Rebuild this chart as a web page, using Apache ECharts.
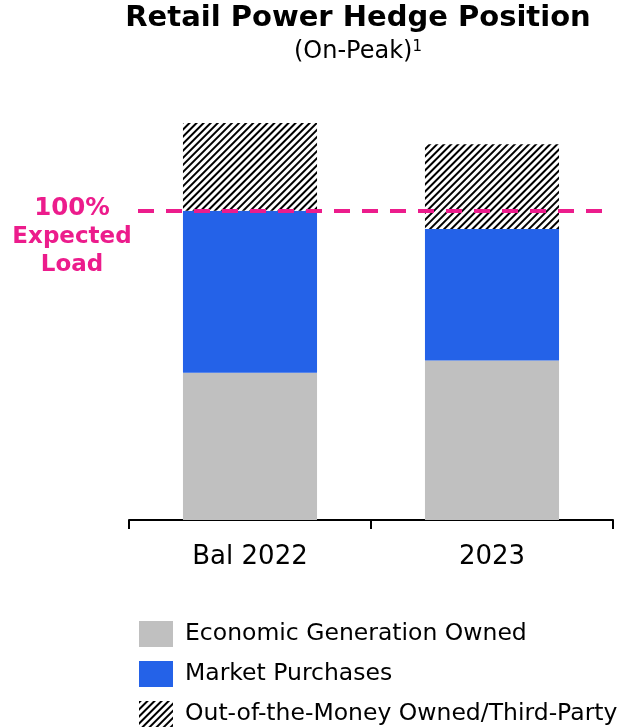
<!DOCTYPE html>
<html>
<head>
<meta charset="utf-8">
<script src="https://cdn.jsdelivr.net/npm/echarts@6/dist/echarts.min.js"></script>
<style>
  html, body { margin: 0; padding: 0; background: #fff; }
  #chart { width: 640px; height: 727px; }
</style>
</head>
<body>
<div id="chart"></div>
<script>
// Hedge position as % of expected on-peak load
const categories = ['Bal 2022', '2023'];
const economicGeneration = [47.6, 51.6];
const marketPurchases = [52.4, 42.5];
const outOfMoney = [28.4, 27.4];
const expectedLoad = 100;

const FONT = 'DejaVu Sans';
const PINK = '#EC1C8C';
const Y_MAX = 140;

const chart = echarts.init(document.getElementById('chart'), null, { renderer: 'canvas' });

chart.setOption({
  animation: false,
  backgroundColor: '#fff',
  title: [
    {
      text: 'Retail Power Hedge Position',
      left: 358, top: 4, padding: 0, textAlign: 'center',
      textStyle: { fontFamily: FONT, fontSize: 29, fontWeight: 'bold', color: '#000' }
    },
    {
      text: '(On-Peak){sup|1}',
      left: 358, top: 40, padding: 0, textAlign: 'center',
      textStyle: {
        fontFamily: FONT, fontSize: 24, fontWeight: 'normal', color: '#000',
        rich: { sup: { fontFamily: FONT, fontSize: 15, verticalAlign: 'top', color: '#000' } }
      }
    }
  ],
  grid: [
    // bars and category axis
    { left: 129, right: 27, top: 87, bottom: 207, containLabel: false },
    // span of the expected-load reference line
    { left: 138, right: 38, top: 87, bottom: 207, containLabel: false }
  ],
  xAxis: [
    {
      type: 'category', gridIndex: 0,
      data: categories,
      axisLine: { show: true, lineStyle: { color: '#000', width: 2 } },
      axisTick: { show: true, length: 9, lineStyle: { color: '#000', width: 2 } },
      axisLabel: { fontFamily: FONT, fontSize: 26, color: '#000', margin: 24 }
    },
    { type: 'value', gridIndex: 1, show: false, min: 0, max: 1 }
  ],
  yAxis: [
    { type: 'value', gridIndex: 0, min: 0, max: Y_MAX, show: false, splitLine: { show: false } },
    { type: 'value', gridIndex: 1, min: 0, max: Y_MAX, show: false, splitLine: { show: false } }
  ],
  legend: {
    orient: 'vertical',
    left: 139, top: 621,
    padding: 0,
    itemWidth: 34, itemHeight: 26, itemGap: 14,
    icon: 'rect',
    selectedMode: false,
    textStyle: { fontFamily: FONT, fontSize: 23.5, color: '#000', padding: [0, 0, 0, 7] },
    data: ['Economic Generation Owned', 'Market Purchases', 'Out-of-the-Money Owned/Third-Party']
  },
  series: [
    {
      name: 'Economic Generation Owned', type: 'bar', stack: 'hedge',
      barWidth: '55.4%',
      itemStyle: { color: '#C0C0C0' },
      data: economicGeneration
    },
    {
      name: 'Market Purchases', type: 'bar', stack: 'hedge',
      itemStyle: { color: '#2462E8' },
      data: marketPurchases
    },
    {
      name: 'Out-of-the-Money Owned/Third-Party', type: 'bar', stack: 'hedge',
      itemStyle: {
        color: '#fff',
        decal: {
          symbol: 'rect', symbolSize: 1, color: '#000', backgroundColor: '#fff',
          dashArrayX: [1, 0], dashArrayY: [1.4, 2.2], rotation: -Math.PI / 4
        }
      },
      data: outOfMoney
    },
    {
      name: 'Expected Load', type: 'line',
      xAxisIndex: 1, yAxisIndex: 1,
      data: [],
      markLine: {
        silent: true, symbol: 'none', z: 10,
        label: { show: false },
        lineStyle: { color: PINK, width: 4, type: [16, 12] },
        data: [{ yAxis: expectedLoad }]
      }
    }
  ],
  graphic: [
    {
      type: 'text', x: 72, y: 195, z: 20,
      style: {
        text: '{big|100%}\nExpected\nLoad',
        fill: PINK, fontFamily: FONT, fontWeight: 'bold', fontSize: 23,
        lineHeight: 28, align: 'center', verticalAlign: 'top',
        rich: { big: { fill: PINK, fontFamily: FONT, fontWeight: 'bold', fontSize: 24.5, lineHeight: 28 } }
      }
    }
  ]
});
</script>
</body>
</html>
